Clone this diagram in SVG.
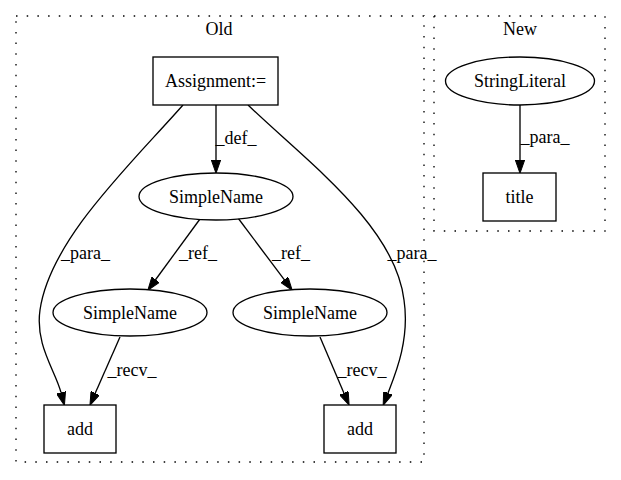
<svg xmlns="http://www.w3.org/2000/svg" width="621" height="480" viewBox="0 0 621 480">
<style>
text{font-size:18px;fill:#000;text-anchor:middle}
.cl{fill:none;stroke:#000;stroke-width:1.33;stroke-dasharray:1.5,9.2}
.nd{fill:#fff;stroke:#000;stroke-width:1.33}
.ed{fill:none;stroke:#000;stroke-width:1.33;marker-end:url(#ah)}
</style>
<defs>
<marker id="ah" markerUnits="userSpaceOnUse" viewBox="0 0 13.3 9.33" markerWidth="13.3" markerHeight="9.33" refX="0" refY="4.67" orient="auto">
<path d="M0,0 L13.3,4.67 L0,9.33 z" fill="#000" stroke="#000" stroke-width="1"/>
</marker>
</defs>
<rect width="621" height="480" fill="#fff"/>
<g font-family="Liberation Serif">
<g id="cluster_old">
<rect class="cl" x="16" y="16" width="408" height="446"/>
<text x="219" y="35">Old</text>
</g>
<g id="cluster_new">
<rect class="cl" x="434" y="16" width="171" height="215"/>
<text x="520" y="35">New</text>
</g>
<g id="edges">
<path class="ed" d="M216,105 L216,160"/>
<text x="236" y="144">_def_</text>
<path class="ed" d="M183,105 C130,165 50,240 40,310 C35,345 55,370 61,392.5"/>
<text x="85.5" y="259">_para_</text>
<path class="ed" d="M248,105 C305,160 395,225 404,300 C410,340 395,375 388,393"/>
<text x="412" y="259">_para_</text>
<path class="ed" d="M200,219 L155.7,279.5"/>
<text x="198" y="259">_ref_</text>
<path class="ed" d="M238,218 L284.2,279.6"/>
<text x="291" y="259">_ref_</text>
<path class="ed" d="M120,337 L95.3,393.1"/>
<text x="132" y="376">_recv_</text>
<path class="ed" d="M320,337 L343.9,393"/>
<text x="362" y="376">_recv_</text>
<path class="ed" d="M520,105 L520,160"/>
<text x="545" y="143">_para_</text>
</g>
<g id="n_assignment">
<rect class="nd" x="153" y="57" width="125" height="48"/>
<text x="215.5" y="87">Assignment:=</text>
</g>
<g id="n_simplename_top">
<ellipse class="nd" cx="216" cy="196.5" rx="77" ry="23.5"/>
<text x="216" y="202.5">SimpleName</text>
</g>
<g id="n_simplename_left">
<ellipse class="nd" cx="130" cy="312.5" rx="77" ry="23.5"/>
<text x="130" y="318.5">SimpleName</text>
</g>
<g id="n_simplename_right">
<ellipse class="nd" cx="310" cy="312.5" rx="77" ry="23.5"/>
<text x="310" y="318.5">SimpleName</text>
</g>
<g id="n_add_left">
<rect class="nd" x="44" y="405" width="72" height="48"/>
<text x="80" y="435">add</text>
</g>
<g id="n_add_right">
<rect class="nd" x="324" y="405" width="72" height="48"/>
<text x="360" y="435">add</text>
</g>
<g id="n_stringliteral">
<ellipse class="nd" cx="520" cy="81" rx="74.5" ry="24"/>
<text x="520" y="87">StringLiteral</text>
</g>
<g id="n_title">
<rect class="nd" x="483" y="173" width="73" height="48"/>
<text x="519.5" y="203">title</text>
</g>
</g>
</svg>
